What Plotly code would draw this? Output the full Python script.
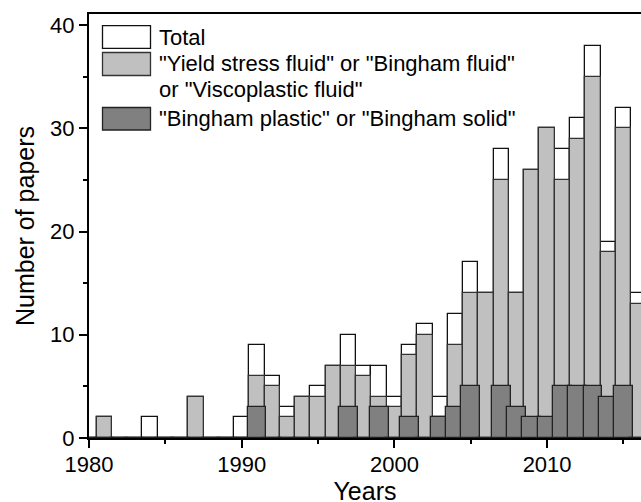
import plotly.graph_objects as go

years = list(range(1980, 2017))
total = [0, 2, 0, 0, 2, 0, 0, 4, 0, 0,
         2, 9, 6, 3, 4, 5, 7, 10, 7, 7,
         4, 9, 11, 4, 12, 17, 14, 28, 14, 26,
         30, 28, 31, 38, 19, 32, 14]
yield_fluid = [0, 2, 0, 0, 0, 0, 0, 4, 0, 0,
               0, 6, 5, 2, 4, 4, 7, 7, 6, 4,
               3, 8, 10, 2, 9, 14, 14, 25, 14, 26,
               30, 25, 29, 35, 18, 30, 13]
bingham = [0, 0, 0, 0, 0, 0, 0, 0, 0, 0,
           0, 3, 0, 0, 0, 0, 0, 3, 0, 3,
           0, 2, 0, 2, 3, 5, 0, 5, 3, 2,
           2, 5, 5, 5, 4, 5, 0]

names = ["Total",
         "\"Yield stress fluid\" or \"Bingham fluid\"",
         "or \"Viscoplastic fluid\"",
         "\"Bingham plastic\" or \"Bingham solid\""]
fills = ["#ffffff", "#c0c0c0", "#808080"]

FONT = "Liberation Sans, Arial, sans-serif"

fig = go.Figure()
fig.add_trace(go.Bar(x=years, y=total, width=1.0, name=names[0],
                     marker=dict(color=fills[0], line=dict(color="#111111", width=1.3))))
fig.add_trace(go.Bar(x=years, y=yield_fluid, width=1.0, name=names[1] + " " + names[2],
                     marker=dict(color=fills[1], line=dict(color="#333333", width=1.3))))
fig.add_trace(go.Bar(x=years, y=bingham, width=1.23, name=names[3],
                     marker=dict(color=fills[2], line=dict(color="#222222", width=1.3))))

# figure is a bit taller than the 502px window; the overflow is hidden
W, H = 641, 514
L, R, T, B = 89, 0, 14, 76
pw, ph = W - L - R, H - T - B

def px(x):  # window pixel -> paper x
    return (x - L) / pw

def py(y):  # window pixel -> paper y
    return (H - B - y) / ph

shapes = []
boxes = [(25.7, 48.3, fills[0], "#111111"),
         (52.5, 75.5, fills[1], "#333333"),
         (107.5, 130.0, fills[2], "#222222")]
for y0, y1, fc, lc in boxes:
    shapes.append(dict(type="rect", xref="paper", yref="paper",
                       x0=px(102.5), x1=px(150.5), y0=py(y1), y1=py(y0),
                       fillcolor=fc, line=dict(color=lc, width=1.3), layer="above"))

ann = []
text_y = [37.5, 63, 89, 119]
for t, yy in zip(names, text_y):
    ann.append(dict(text=t, x=px(157), y=py(yy), xref="paper", yref="paper",
                    xanchor="left", yanchor="middle", showarrow=False,
                    font=dict(family=FONT, size=22, color="black")))

fig.update_layout(
    width=W, height=H,
    margin=dict(l=L, r=R, t=T, b=B, pad=0, autoexpand=False),
    barmode="overlay",
    bargap=0,
    showlegend=False,
    plot_bgcolor="white", paper_bgcolor="white",
    font=dict(family=FONT, size=22, color="black"),
    shapes=shapes, annotations=ann,
)
fig.update_xaxes(range=[1980, 1980 + pw / 15.27], tickvals=[1980, 1990, 2000, 2010],
                 ticks="outside", ticklen=8, tickwidth=1.5, tickcolor="black",
                 minor=dict(tickvals=[1985, 1995, 2005, 2015], ticks="outside",
                            ticklen=4, tickwidth=1.5, tickcolor="black"),
                 showline=True, linecolor="black", linewidth=2, mirror=True,
                 showgrid=False, zeroline=False, automargin=False,
                 tickfont=dict(size=22), ticklabelstandoff=-2,
                 title=dict(text="Years", font=dict(size=25), standoff=2))
fig.update_yaxes(range=[0, 41.07], tickvals=[0, 10, 20, 30, 40],
                 ticks="outside", ticklen=8, tickwidth=1.5, tickcolor="black",
                 minor=dict(tickvals=[5, 15, 25, 35], ticks="outside",
                            ticklen=4, tickwidth=1.5, tickcolor="black"),
                 showline=True, linecolor="black", linewidth=2, mirror=False,
                 showgrid=False, zeroline=False, automargin=False,
                 tickfont=dict(size=22),
                 title=dict(text="Number of papers", font=dict(size=25), standoff=8))

fig.write_html("out.html",
               config={"displayModeBar": False},
               post_script="document.body.style.margin='0';"
                           "document.body.style.overflow='hidden';")
